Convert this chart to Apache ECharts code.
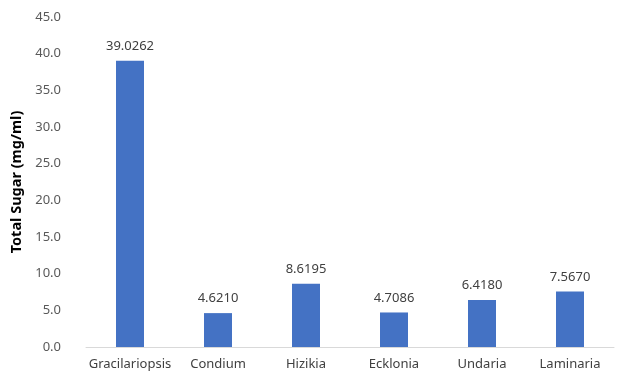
<!DOCTYPE html>
<html>
<head>
<meta charset="utf-8">
<script src="https://cdn.jsdelivr.net/npm/echarts@6/dist/echarts.min.js"></script>
<style>
  html, body { margin: 0; padding: 0; background: #fff; }
  #chart { width: 619px; height: 377px; }
</style>
</head>
<body>
<div id="chart"></div>
<script>
// Total sugar content by seaweed species
const categories = ['Gracilariopsis', 'Condium', 'Hizikia', 'Ecklonia', 'Undaria', 'Laminaria'];
const totalSugar = [39.0262, 4.6210, 8.6195, 4.7086, 6.4180, 7.5670];
const yTicks = { min: 0, max: 45, interval: 5 };

const chart = echarts.init(document.getElementById('chart'), null, { renderer: 'canvas' });
const font = '"Noto Sans", "Open Sans", sans-serif';

chart.setOption({
  animation: false,
  grid: { left: 86, right: 5, top: 17, bottom: 30, containLabel: false },
  xAxis: {
    type: 'category',
    data: categories,
    axisLine: { lineStyle: { color: '#d9d9d9', width: 1 } },
    axisTick: { show: false },
    axisLabel: { color: '#404040', fontSize: 13, fontFamily: font, margin: 11, interval: 0 }
  },
  yAxis: {
    type: 'value',
    min: yTicks.min,
    max: yTicks.max,
    interval: yTicks.interval,
    name: 'Total Sugar (mg/ml)',
    nameLocation: 'middle',
    nameGap: 47,
    nameTextStyle: { color: '#000', fontSize: 14.5, fontWeight: 'bold', fontFamily: font },
    axisLine: { show: false },
    axisTick: { show: false },
    splitLine: { show: false },
    axisLabel: {
      color: '#595959', fontSize: 13, fontFamily: font, margin: 25,
      formatter: v => v.toFixed(1)
    }
  },
  series: [{
    type: 'bar',
    data: totalSugar,
    barWidth: 28,
    itemStyle: { color: '#4472c4' },
    label: {
      show: true,
      position: 'top',
      distance: 8,
      color: '#404040',
      fontSize: 13,
      fontFamily: font,
      formatter: p => p.value.toFixed(4)
    }
  }]
});
</script>
</body>
</html>
